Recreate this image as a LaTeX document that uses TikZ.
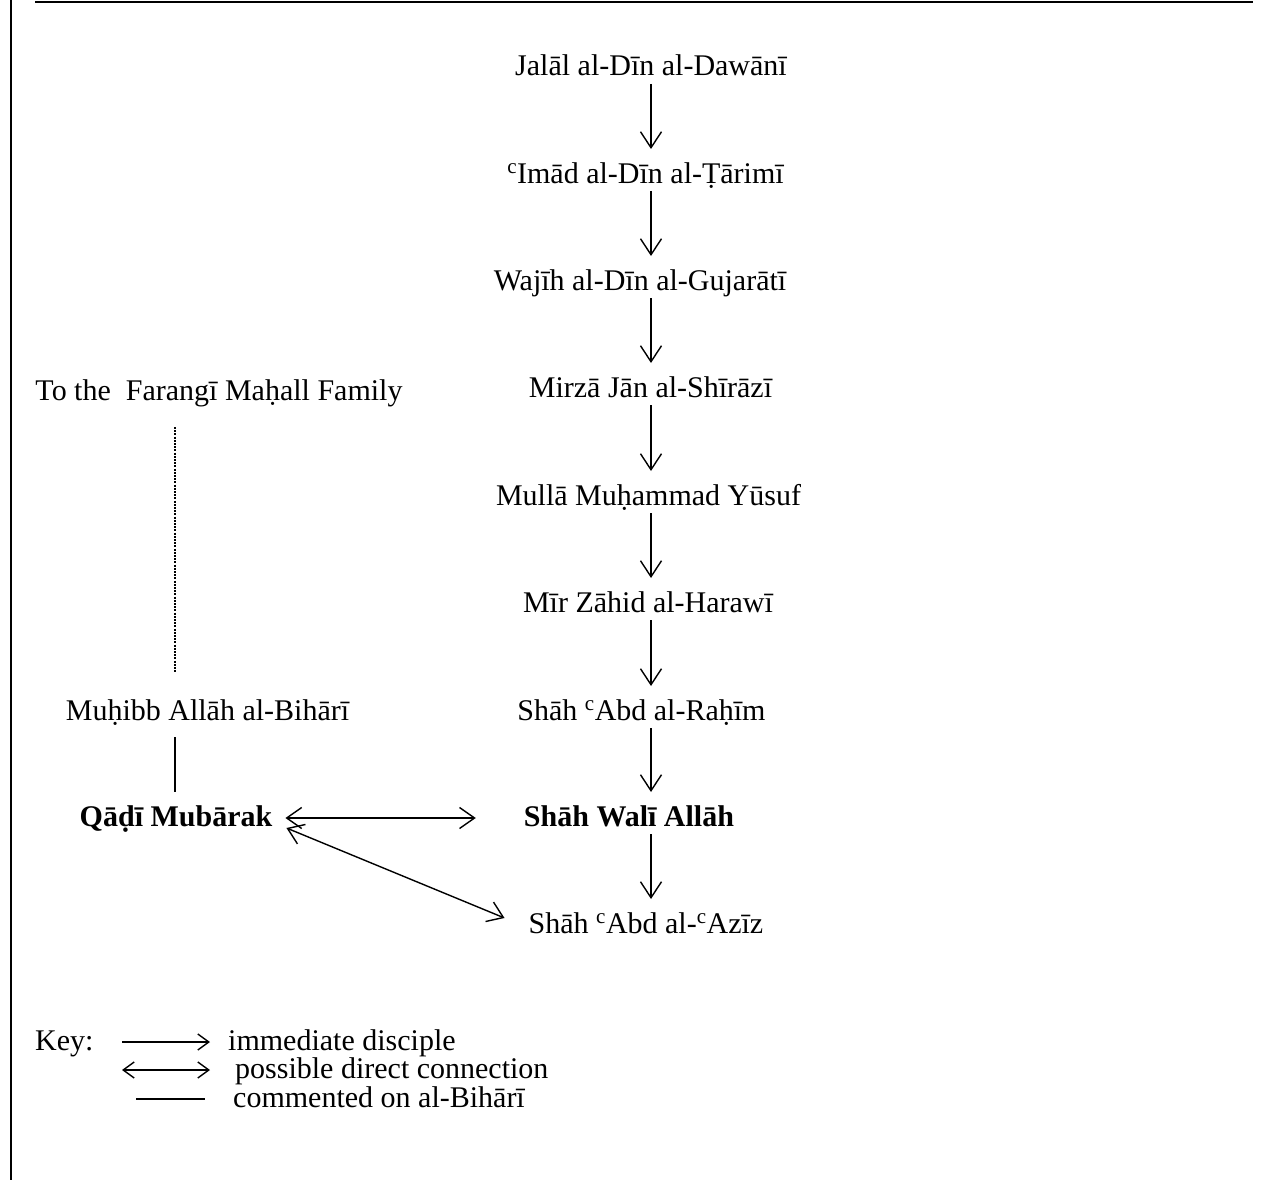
\documentclass[tikz,border=0pt]{standalone}
\usepackage{fontspec}
\setmainfont{Liberation Serif}
\usetikzlibrary{arrows.meta,calc}
\begin{document}
\begin{tikzpicture}[x=1pt,y=-1pt,
  person/.style={font=\fontsize{30}{36}\selectfont, inner sep=0pt, anchor=base},
  bperson/.style={person, font=\fontsize{30}{36}\selectfont\bfseries},
  keytext/.style={font=\fontsize{30}{36}\selectfont, inner sep=0pt, anchor=base west},
  disciple/.style={line width=1.4pt, -{Straight Barb[length=16pt,width=21pt]}},
  possible/.style={line width=1.4pt, {Straight Barb[length=15pt,width=21pt]}-{Straight Barb[length=15pt,width=21pt]}},
  keydisciple/.style={line width=1.4pt, -{Straight Barb[length=11pt,width=16pt]}},
  keypossible/.style={line width=1.4pt, {Straight Barb[length=11pt,width=16pt]}-{Straight Barb[length=11pt,width=16pt]}},
  commented/.style={line width=1.4pt},
  dotline/.style={line width=1.8pt, dash pattern=on 2pt off 1.2pt},
  frameline/.style={line width=2.4pt}]
\useasboundingbox (0,0) rectangle (1270,1180);
% frame
\draw[frameline] (11,0) -- (11,1180);
\draw[frameline] (35,2) -- (1253,2);
% main column
\coordinate (col) at (651,0);
\node[person] (n1) at (651,76) {Jalāl al-Dīn al-Dawānī};
\node[person] (n2) at (645.5,183) {\textsuperscript{c}Imād al-Dīn al-Ṭārimī};
\node[person] (n3) at (640,290) {Wajīh al-Dīn al-Gujarātī};
\node[person] (n4) at (650.5,397) {Mirzā Jān al-Shīrāzī};
\node[person] (n5) at (648.5,505) {Mullā Muḥammad Yūsuf};
\node[person] (n6) at (648,612) {Mīr Zāhid al-Harawī};
\node[person] (n7) at (641.5,720) {Shāh \textsuperscript{c}Abd al-Raḥīm};
\node[bperson] (n8) at (629,826) {Shāh Walī Allāh};
\node[person] (n9) at (646,933) {Shāh \textsuperscript{c}Abd al-\textsuperscript{c}Azīz};
\foreach \a/\b in {n1/n2,n2/n3,n3/n4,n4/n5,n5/n6,n6/n7,n7/n8,n8/n9}
  \draw[disciple] ($(\a.base -| col)+(0,8)$) -- ($(\b.base -| col)+(0,-34)$);
% left column
\coordinate (lcol) at (175,0);
\node[person] (fm) at (219,400) {To the\ \ Farangī Maḥall Family};
\node[person] (mb) at (207.5,720) {Muḥibb Allāh al-Bihārī};
\node[bperson] (qm) at (176,826) {Qāḍī Mubārak};
\draw[dotline] ($(fm.base -| lcol)+(0,27)$) -- ($(mb.base -| lcol)+(0,-47)$);
\draw[commented] ($(mb.base -| lcol)+(0,17)$) -- ($(qm.base -| lcol)+(0,-34)$);
\draw[possible] ($(qm.base east)+(13,-8)$) -- ($(n8.base west)+(-48,-8)$);
\draw[possible] ($(qm.base east)+(14,2)$) -- ($(n9.base west)+(-24,-15)$);
% key
\node[keytext] (key) at (35,1050) {Key:};
\node[keytext] (k1) at (228,1050) {immediate disciple};
\node[keytext] (k2) at (235,1078) {possible direct connection};
\node[keytext] (k3) at (233,1107) {commented on al-Bihārī};
\coordinate (k1s) at (122,1042);
\coordinate (k2s) at (122,1070);
\coordinate (k3s) at (136,1099);
\draw[keydisciple] (k1s) -- ($(k1.base west)+(-18,-8)$);
\draw[keypossible] (k2s) -- ($(k2.base west)+(-25,-8)$);
\draw[commented] (k3s) -- ($(k3.base west)+(-28,-8)$);
\end{tikzpicture}
\end{document}
